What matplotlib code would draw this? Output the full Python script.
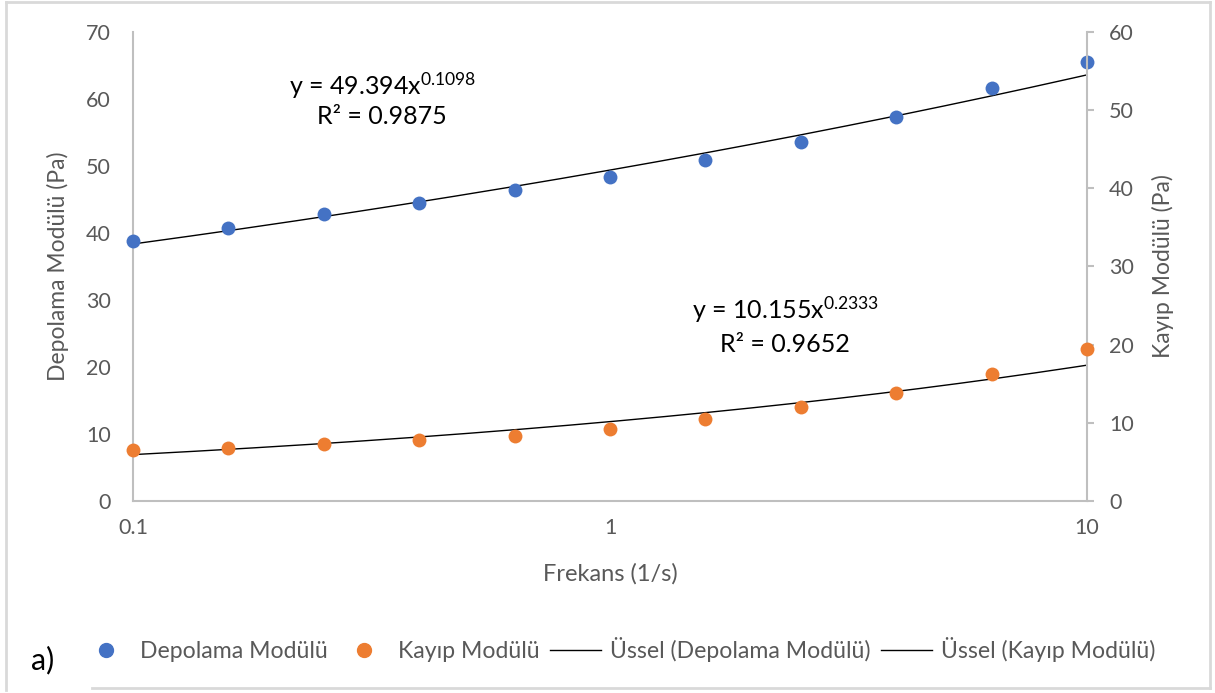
import numpy as np
import matplotlib
matplotlib.use("Agg")
import matplotlib.pyplot as plt
from matplotlib.lines import Line2D

plt.rcParams["font.family"] = ["Lato", "DejaVu Sans"]
plt.rcParams["mathtext.fontset"] = "custom"
plt.rcParams["mathtext.rm"] = "Lato"
plt.rcParams["mathtext.it"] = "Lato"

# Frequency sweep (1/s)
frequency = [0.1, 0.158, 0.251, 0.398, 0.631, 1.0, 1.585, 2.512, 3.981, 6.31, 10.0]
# Storage modulus G' (Pa), left axis
storage_modulus = [38.8, 40.7, 42.8, 44.5, 46.4, 48.4, 50.9, 53.6, 57.3, 61.6, 65.5]
# Loss modulus G'' (Pa), right axis
loss_modulus = [6.5, 6.8, 7.3, 7.8, 8.35, 9.2, 10.45, 12.0, 13.8, 16.3, 19.4]

# Power-law trendline coefficients: y = a * x^b, with R²
storage_fit = (49.394, 0.1098, 0.9875)
loss_fit = (10.155, 0.2333, 0.9652)

left_ticks = [0, 10, 20, 30, 40, 50, 60, 70]
right_ticks = [0, 10, 20, 30, 40, 50, 60]
x_ticks = [0.1, 1, 10]
x_ticklabels = ["0.1", "1", "10"]

BLUE = "#4472C4"
ORANGE = "#ED7D31"
GRID = "#BFBFBF"
TXT = "#595959"

W, H = 1215, 693
fig = plt.figure(figsize=(W / 100, H / 100), dpi=100)
ax = fig.add_axes([133 / W, 1 - 501 / H, (1087 - 133) / W, (501 - 32) / H])
ax2 = ax.twinx()

xs = np.logspace(-1, 1, 200)
ax.plot(xs, storage_fit[0] * xs ** storage_fit[1], color="black", lw=1.0, zorder=2)
ax2.plot(xs, loss_fit[0] * xs ** loss_fit[1], color="black", lw=1.0, zorder=2)
ax.scatter(frequency, storage_modulus, s=100, color=BLUE, zorder=3, linewidths=0, clip_on=False)
ax2.scatter(frequency, loss_modulus, s=100, color=ORANGE, zorder=3, linewidths=0, clip_on=False)

ax.set_xscale("log")
ax.set_xlim(0.1, 10)
ax.set_ylim(0, 70)
ax2.set_ylim(0, 60)
ax.set_xticks(x_ticks)
ax.set_xticklabels(x_ticklabels)
ax.xaxis.set_minor_locator(matplotlib.ticker.NullLocator())
ax.set_yticks(left_ticks)
ax2.set_yticks(right_ticks)

for a in (ax, ax2):
    for s in a.spines.values():
        s.set_visible(False)
ax.spines["left"].set_visible(True)
ax.spines["bottom"].set_visible(True)
ax2.spines["right"].set_visible(True)
for s in (ax.spines["left"], ax.spines["bottom"], ax2.spines["right"]):
    s.set_color(GRID)
    s.set_linewidth(1.5)

FS = 15.5
ax.tick_params(axis="y", length=0, pad=16, labelsize=FS, labelcolor=TXT)
ax.tick_params(axis="x", length=0, pad=12, labelsize=FS, labelcolor=TXT)
ax2.tick_params(axis="y", length=5, width=1.5, color=GRID, pad=11, labelsize=FS, labelcolor=TXT)

ax.set_xlabel("Frekans (1/s)", fontsize=17, color=TXT, labelpad=18)
ax.set_ylabel("Depolama Modülü (Pa)", fontsize=16.5, color=TXT, labelpad=12)
ax2.set_ylabel("Kayıp Modülü (Pa)", fontsize=16.5, color=TXT, labelpad=13)

def fig_xy(px, py):
    return px / W, 1 - py / H

eq_kw = dict(ha="center", va="baseline", fontsize=18, color="black", transform=fig.transFigure)
fig.text(*fig_xy(383, 95), f"y = {storage_fit[0]}x$^{{{storage_fit[1]}}}$", **eq_kw)
fig.text(*fig_xy(382, 124), f"R² = {storage_fit[2]}", **eq_kw)
fig.text(*fig_xy(786, 319), f"y = {loss_fit[0]}x$^{{{loss_fit[1]}}}$", **eq_kw)
fig.text(*fig_xy(785, 352), f"R² = {loss_fit[2]}", **eq_kw)

handles = [
    Line2D([], [], marker="o", ls="none", color=BLUE, markersize=10),
    Line2D([], [], marker="o", ls="none", color=ORANGE, markersize=10),
    Line2D([], [], color="black", lw=1.0),
    Line2D([], [], color="black", lw=1.0),
]
labels = ["Depolama Modülü", "Kayıp Modülü", "Üssel (Depolama Modülü)", "Üssel (Kayıp Modülü)"]
leg = fig.legend(handles, labels, loc="center", bbox_to_anchor=fig_xy(618, 650), ncol=4,
                 frameon=False, fontsize=16.6, handlelength=2.2, handletextpad=0.4,
                 columnspacing=0.45, labelcolor=TXT, borderpad=0, borderaxespad=0)

fig.text(*fig_xy(43, 660), "a)", ha="center", va="center", fontsize=22, color="black")

# chart frame
frame_kw = dict(color="#D9D9D9", lw=2, transform=None)
fig.add_artist(Line2D([6, 6], [H - 2, H - 690], **frame_kw))
fig.add_artist(Line2D([6, 1210], [H - 2, H - 2], **frame_kw))
fig.add_artist(Line2D([1210, 1210], [H - 2, H - 688], **frame_kw))
fig.add_artist(Line2D([92, 1210], [H - 688, H - 688], **frame_kw))

fig.savefig("out.png", dpi=100)
